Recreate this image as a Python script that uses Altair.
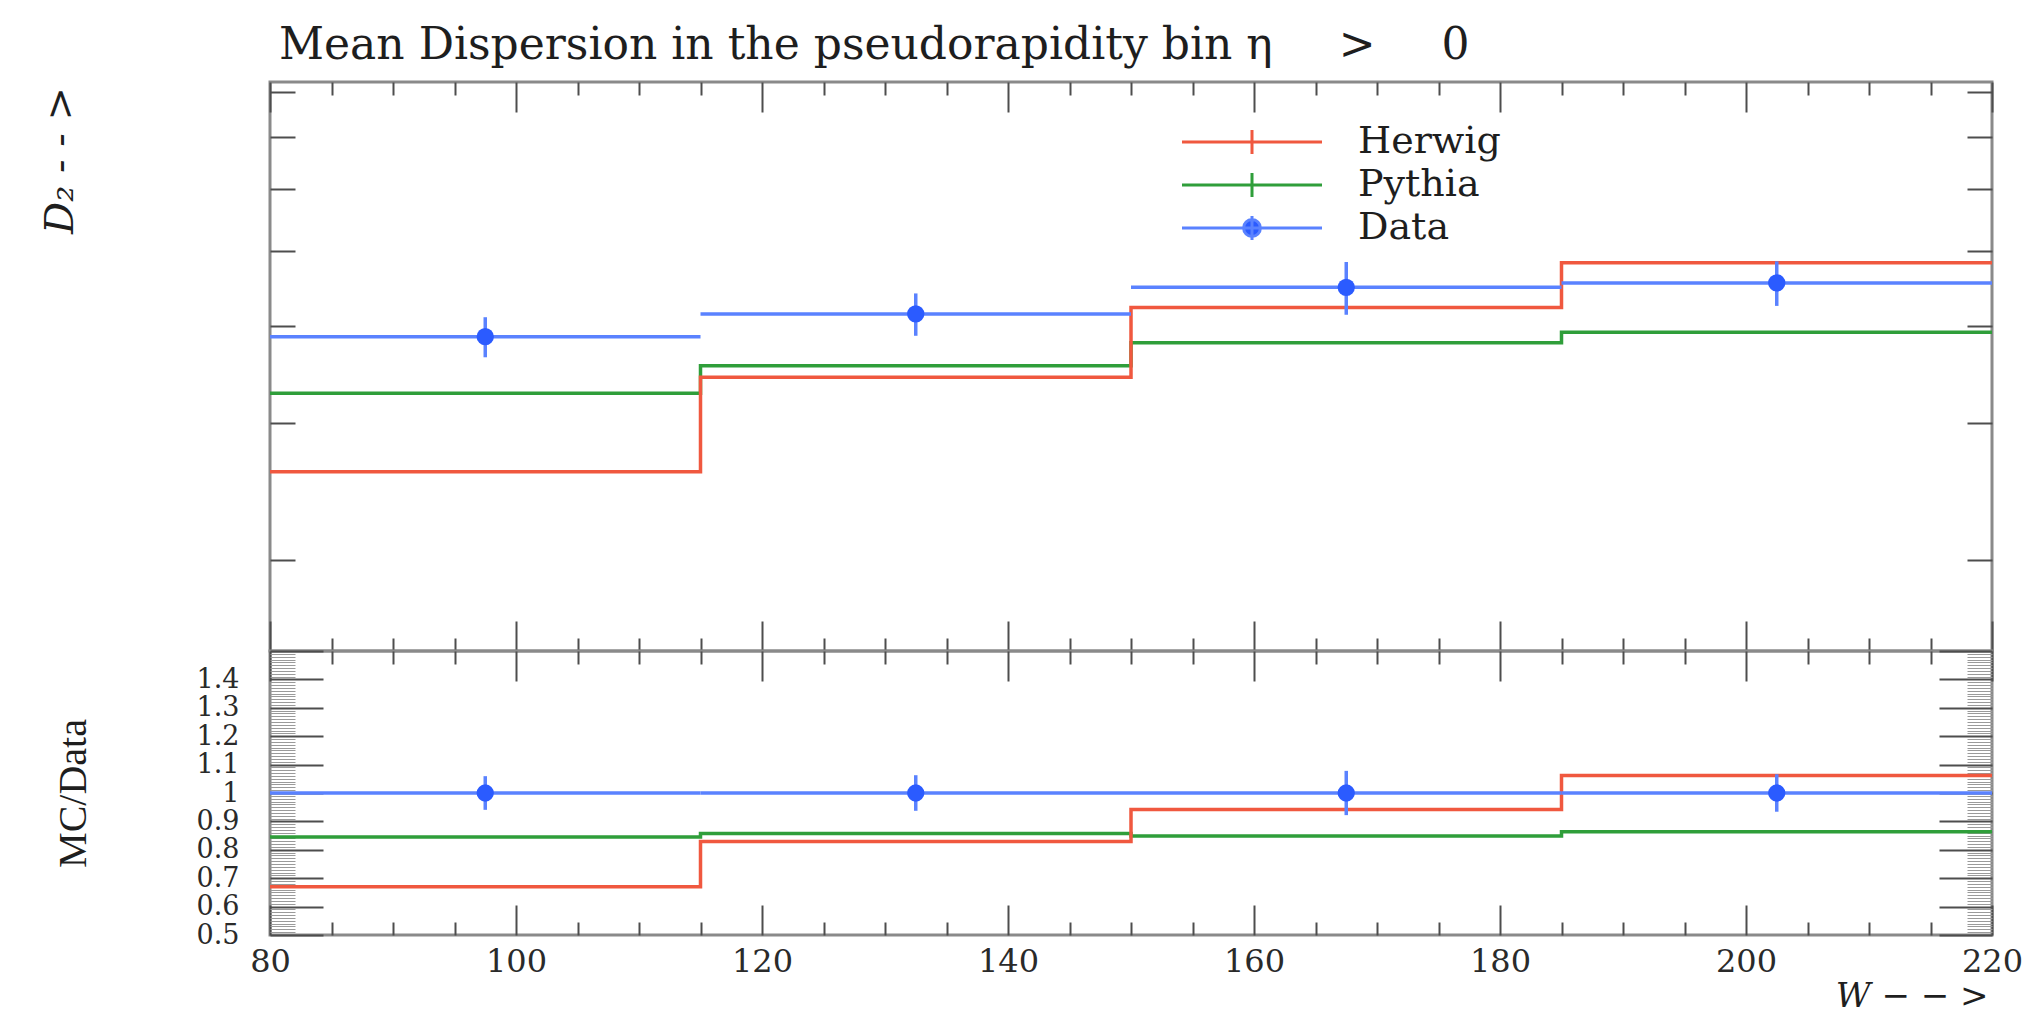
import altair as alt
import pandas as pd

# ---------------- values ----------------
bin_edges = [80, 115, 150, 185, 220]
bin_centers = [97.5, 132.5, 167.5, 202.5]
data_values = [3.88, 4.15, 4.49, 4.55]
data_errors = [0.23, 0.26, 0.35, 0.30]
herwig_values = [2.60, 3.44, 4.23, 4.83]
pythia_values = [3.28, 3.56, 3.81, 3.93]

series_names = ["Herwig", "Pythia", "Data"]
series_colors = ["#f0583f", "#2f9e3a", "#5a82ff"]
marker_color = "#2b5bff"

x_tick_values = list(range(80, 225, 5))
x_label_values = [80, 100, 120, 140, 160, 180, 200, 220]
upper_tick_values = [2, 3, 4, 5, 6, 7, 8]
ratio_label_values = [0.5, 0.6, 0.7, 0.8, 0.9, 1.0, 1.1, 1.2, 1.3, 1.4]
ratio_tick_values = [round(0.5 + 0.01 * i, 2) for i in range(101)]

title_text = "Mean Dispersion in the pseudorapidity bin η\u2003\u2002>\u2003\u20020"
upper_ylabel = "D₂ - - >"
lower_ylabel = "MC/Data"
x_title = "W − − >"

# ---------------- layout / style ----------------
W, H1, H2 = 1722, 569, 284
x_domain = [80, 220]
upper_domain = [1.529, 8.25]
ratio_domain = [0.5, 1.5]
TICK = "#4d4d4d"
SERIF = "DejaVu Serif"
TEXT = "#1e1e1e"
LABEL = "#2a2a2a"

mc_path = "M-3.5,0H3.5M0,-0.6V0.6"
data_path = "M-3.5,0H3.5M0,-0.6V0.6M0.42,0A0.42,0.42,0,1,1,-0.42,0A0.42,0.42,0,1,1,0.42,0Z"

# ---------------- tables ----------------
bins_df = pd.DataFrame({
    "lo": bin_edges[:-1], "hi": bin_edges[1:], "center": bin_centers,
    "value": data_values, "err": data_errors,
})
bins_df["low"] = bins_df["value"] - bins_df["err"]
bins_df["high"] = bins_df["value"] + bins_df["err"]
bins_df["one"] = 1.0
bins_df["rlow"] = 1 - bins_df["err"] / bins_df["value"]
bins_df["rhigh"] = 1 + bins_df["err"] / bins_df["value"]


def steps(vals):
    return pd.DataFrame({"x": bin_edges, "y": list(vals) + [vals[-1]]})


herwig_df = steps(herwig_values)
pythia_df = steps(pythia_values)
herwig_ratio_df = steps([h / d for h, d in zip(herwig_values, data_values)])
pythia_ratio_df = steps([p / d for p, d in zip(pythia_values, data_values)])
legend_df = pd.DataFrame({"series": series_names})

# ---------------- axes ----------------
x_major = {"condition": {"test": "datum.value % 20 === 0", "value": 30}, "value": 13}
r_test = "abs(datum.value * 10 - round(datum.value * 10)) < 0.001"
r_size = {"condition": {"test": r_test, "value": 53}, "value": 25}
r_color = {"condition": {"test": r_test, "value": TICK}, "value": "#9a9a9a"}
r_width = {"condition": {"test": r_test, "value": 2}, "value": 1}


def tick_axis(orient, offset, values, size, color=TICK, width=2):
    return alt.Axis(orient=orient, offset=offset, values=values, labels=False,
                    domain=False, grid=False, title=None, ticks=True,
                    tickSize=size, tickColor=color, tickWidth=width)


xs = alt.Scale(domain=x_domain, nice=False, zero=False)
ys_up = alt.Scale(type="log", domain=upper_domain, nice=False)
ys_lo = alt.Scale(domain=ratio_domain, nice=False, zero=False)

# ---------------- upper panel ----------------
up_pythia = alt.Chart(pythia_df).mark_line(
    interpolate="step-after", color=series_colors[1], strokeWidth=3.5).encode(
    x=alt.X("x:Q", scale=xs, axis=tick_axis("bottom", -H1, x_tick_values, x_major)),
    y=alt.Y("y:Q", scale=ys_up, axis=tick_axis("right", -W, upper_tick_values, 25)),
)
up_herwig = alt.Chart(herwig_df).mark_line(
    interpolate="step-after", color=series_colors[0], strokeWidth=3.5).encode(
    x=alt.X("x:Q", scale=xs, axis=tick_axis("top", -H1, x_tick_values, x_major)),
    y=alt.Y("y:Q", scale=ys_up, axis=tick_axis("left", -W, upper_tick_values, 25)),
)
up_bars = alt.Chart(bins_df).mark_rule(color=series_colors[2], strokeWidth=3.5).encode(
    x=alt.X("lo:Q", scale=xs, axis=None),
    x2="hi:Q",
    y=alt.Y("value:Q", scale=ys_up, axis=alt.Axis(
        orient="left", labels=False, ticks=False, domain=False, grid=False,
        title=upper_ylabel, titleX=-198, titleY=78, titleAlign="center",
        titleBaseline="alphabetic", titleFont=SERIF, titleFontStyle="italic",
        titleFontWeight="normal", titleFontSize=40, titleColor=TEXT)),
)
up_errs = alt.Chart(bins_df).mark_rule(color=series_colors[2], strokeWidth=3.5).encode(
    x=alt.X("center:Q", scale=xs, axis=None),
    y=alt.Y("low:Q", scale=ys_up, axis=None),
    y2="high:Q",
)
up_pts = alt.Chart(bins_df).mark_point(
    filled=True, shape="circle", size=300, color=marker_color, opacity=1).encode(
    x=alt.X("center:Q", scale=xs, axis=None),
    y=alt.Y("value:Q", scale=ys_up, axis=None),
)
legend_def = dict(title=None, orient="none", legendX=960.5, legendY=38.5,
                  symbolSize=1600, symbolStrokeWidth=3, labelFont=SERIF,
                  labelFontSize=38, labelColor=TEXT, labelOffset=84.5,
                  labelLimit=0, rowPadding=2, padding=0, symbolOpacity=1)
up_legend = alt.Chart(legend_df).mark_point(
    filled=False, fill=marker_color, strokeWidth=3, clip=True, opacity=1).encode(
    x=alt.value(-400), y=alt.value(-400),
    color=alt.Color("series:N", scale=alt.Scale(domain=series_names, range=series_colors),
                    legend=alt.Legend(**legend_def)),
    shape=alt.Shape("series:N", scale=alt.Scale(domain=series_names,
                                                range=[mc_path, mc_path, data_path]),
                    legend=alt.Legend(**legend_def)),
)

upper = alt.layer(up_pythia, up_herwig, up_bars, up_errs, up_pts, up_legend).resolve_axis(
    x="independent", y="independent").properties(
    width=W, height=H1,
    title=alt.TitleParams(text=title_text, anchor="start", frame="group", dx=9,
                          offset=-22, font=SERIF, fontSize=44, fontWeight="normal",
                          color=TEXT, baseline="alphabetic"),
)

# ---------------- ratio panel ----------------
lo_pythia = alt.Chart(pythia_ratio_df).mark_line(
    interpolate="step-after", color=series_colors[1], strokeWidth=3.5).encode(
    x=alt.X("x:Q", scale=xs, axis=tick_axis("bottom", -H2, x_tick_values, x_major)),
    y=alt.Y("y:Q", scale=ys_lo, axis=tick_axis("right", -W, ratio_tick_values, r_size, r_color, r_width)),
)
lo_herwig = alt.Chart(herwig_ratio_df).mark_line(
    interpolate="step-after", color=series_colors[0], strokeWidth=3.5).encode(
    x=alt.X("x:Q", scale=xs, axis=tick_axis("top", -H2, x_tick_values, x_major)),
    y=alt.Y("y:Q", scale=ys_lo, axis=tick_axis("left", -W, ratio_tick_values, r_size, r_color, r_width)),
)
lo_line = alt.Chart(bins_df).mark_rule(color=series_colors[2], strokeWidth=3.5).encode(
    x=alt.X("lo:Q", scale=xs, axis=alt.Axis(
        orient="bottom", values=x_label_values, format="d", ticks=False, tickSize=0,
        domain=False, grid=False, labelFlush=False, labelPadding=11,
        labelFont=SERIF, labelFontSize=32, labelColor=LABEL,
        title=x_title, titleX=W - 4, titleY=61, titleAlign="right",
        titleBaseline="middle", titleFont=SERIF, titleFontStyle="italic",
        titleFontWeight="normal", titleFontSize=34, titleColor=TEXT)),
    x2="hi:Q",
    y=alt.Y("one:Q", scale=ys_lo, axis=alt.Axis(
        orient="left", values=ratio_label_values, format="~g", ticks=False, tickSize=0,
        domain=False, grid=False, labelOverlap=False, labelPadding=31,
        labelFont=SERIF, labelFontSize=27, labelColor=LABEL,
        title=lower_ylabel, titleX=-185, titleY=H2 / 2, titleAlign="center",
        titleBaseline="alphabetic", titleFont="Liberation Serif",
        titleFontWeight="normal", titleFontSize=40, titleColor=TEXT)),
)
lo_errs = alt.Chart(bins_df).mark_rule(color=series_colors[2], strokeWidth=3.5).encode(
    x=alt.X("center:Q", scale=xs, axis=None),
    y=alt.Y("rlow:Q", scale=ys_lo, axis=None),
    y2="rhigh:Q",
)
lo_pts = alt.Chart(bins_df).mark_point(
    filled=True, shape="circle", size=300, color=marker_color, opacity=1).encode(
    x=alt.X("center:Q", scale=xs, axis=None),
    y=alt.Y("one:Q", scale=ys_lo, axis=None),
)

lower = alt.layer(lo_pythia, lo_herwig, lo_line, lo_errs, lo_pts).resolve_axis(
    x="independent", y="independent").properties(width=W, height=H2)

chart = alt.vconcat(upper, lower, spacing=0, bounds="flush").resolve_scale(
    color="independent", shape="independent").properties(
    padding={"left": 30, "top": 14, "right": 0, "bottom": 0},
    background="white",
).configure_view(stroke="#8a8a8a", strokeWidth=3)

chart.save("out.html", embed_options={"renderer": "svg", "actions": False})
